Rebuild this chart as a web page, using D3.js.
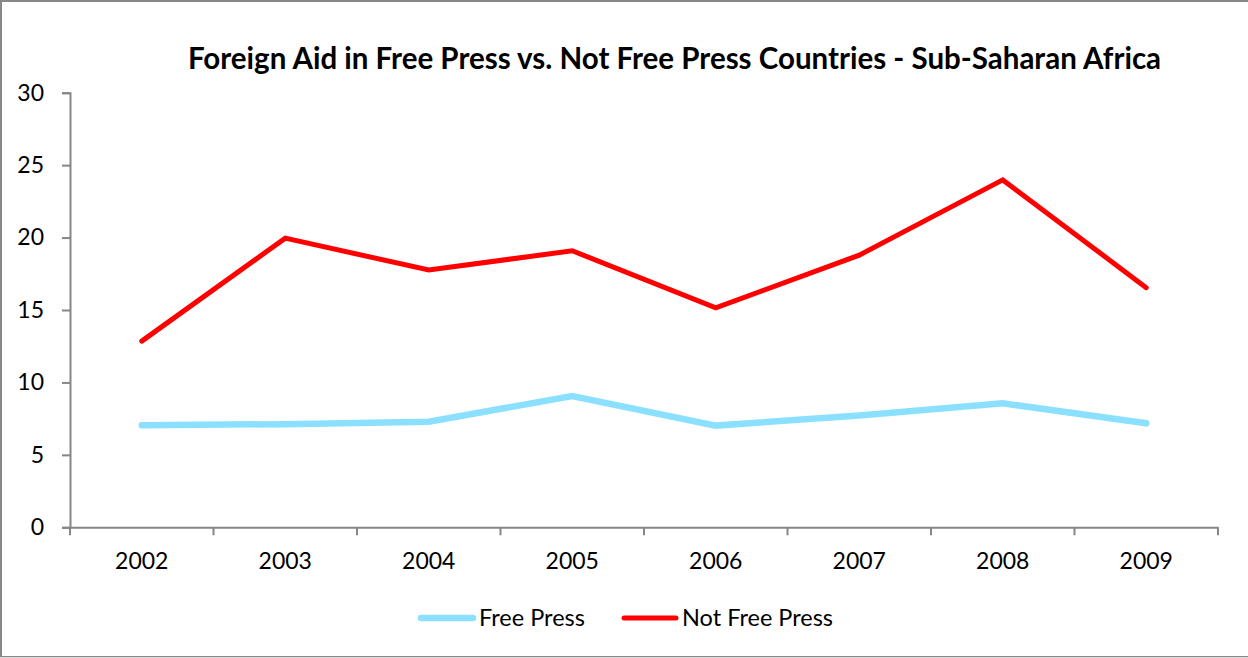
<!DOCTYPE html>
<html><head><meta charset="utf-8">
<script src="https://cdn.jsdelivr.net/npm/d3@7"></script>
<style>html,body{margin:0;padding:0;background:#fff;}svg{display:block;font-family:Lato,"Open Sans",sans-serif;}</style>
</head><body><svg id="c" width="1248" height="658"></svg>
<script>
const title = "Foreign Aid in Free Press vs. Not Free Press Countries - Sub-Saharan Africa";
const years = ["2002","2003","2004","2005","2006","2007","2008","2009"];
const freePress = [7.05, 7.12, 7.29, 9.06, 7.02, 7.72, 8.56, 7.18];
const notFreePress = [12.85, 19.96, 17.76, 19.09, 15.15, 18.79, 23.98, 16.54];
const yTicks = [0,5,10,15,20,25,30];
const seriesNames = ["Free Press","Not Free Press"];
const seriesColors = ["#8CE0FF","#FF0000"];
const seriesWidths = [6.5, 5];

const svg = d3.select("#c");
const W = 1248, H = 658;
// border
svg.append("rect").attr("x",1).attr("y",1).attr("width",W).attr("height",H-2)
  .attr("fill","none").attr("stroke","#878787").attr("stroke-width",2);
svg.append("line").attr("x1",0).attr("x2",W).attr("y1",H-0.5).attr("y2",H-0.5).attr("stroke","#d9d9d9");

const L = 70, R = 1218, T = 92.7, B = 527.3;
const x = d3.scaleBand().domain(years).range([L,R]);
const y = d3.scaleLinear().domain([0,30]).range([B,T]);

svg.append("text").attr("x",674.5).attr("y",69).attr("text-anchor","middle")
  .attr("font-weight","bold").attr("font-size",29.5).attr("fill","#000").text(title);

const gy = svg.append("g").attr("transform",`translate(${L},0)`)
  .call(d3.axisLeft(y).tickValues(yTicks).tickSize(8).tickPadding(18));
gy.select(".domain").attr("stroke","#868686").attr("stroke-width",2);
gy.selectAll(".tick line").attr("stroke","#868686").attr("stroke-width",2);
gy.selectAll(".tick text").attr("font-size",23).attr("fill","#000").attr("font-family","Lato,sans-serif");

const gx = svg.append("g").attr("transform",`translate(0,${B})`)
  .call(d3.axisBottom(x).tickSize(0).tickPadding(25));
gx.select(".domain").attr("stroke","#868686").attr("stroke-width",2);
gx.selectAll(".tick text").attr("font-size",23).attr("fill","#000").attr("font-family","Lato,sans-serif");
// category boundary ticks
const bounds = years.map(d=>x(d)).concat([x(years[years.length-1])+x.bandwidth()]);
gx.selectAll(".btick").data(bounds).enter().append("line")
  .attr("x1",d=>d).attr("x2",d=>d).attr("y1",0).attr("y2",8)
  .attr("stroke","#868686").attr("stroke-width",2);

const line = d3.line().x((d,i)=>x(years[i])+x.bandwidth()/2).y(d=>y(d));
[freePress, notFreePress].forEach((s,k)=>{
  svg.append("path").datum(s).attr("d",line).attr("fill","none")
    .attr("stroke",seriesColors[k]).attr("stroke-width",seriesWidths[k])
    .attr("stroke-linejoin","miter").attr("stroke-linecap","round");
});

// legend
const legX = [419, 622], legY = 618;
seriesNames.forEach((n,k)=>{
  svg.append("line").attr("x1",legX[k]+2).attr("x2",legX[k]+54).attr("y1",legY).attr("y2",legY)
    .attr("stroke",seriesColors[k]).attr("stroke-width",seriesWidths[k]).attr("stroke-linecap","round");
  svg.append("text").attr("x",legX[k]+60).attr("y",legY+8).attr("font-size",23.5).attr("fill","#000").text(n);
});
</script></body></html>
